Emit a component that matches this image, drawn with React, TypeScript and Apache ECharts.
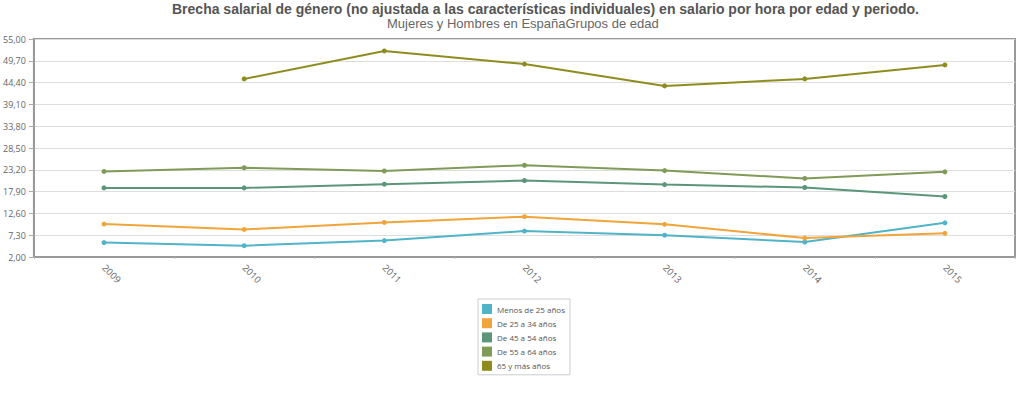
import React, { useEffect, useRef } from "react";
import * as echarts from "echarts";

const years = ["2009", "2010", "2011", "2012", "2013", "2014", "2015"];
const seriesNames = [
  "Menos de 25 años",
  "De 25 a 34 años",
  "De 45 a 54 años",
  "De 55 a 64 años",
  "65 y más años",
];
const menos25 = [5.5, 4.75, 6.0, 8.3, 7.3, 5.65, 10.3];
const de25a34 = [10.0, 8.7, 10.4, 11.8, 9.95, 6.6, 7.75];
const de45a54 = [18.8, 18.8, 19.7, 20.6, 19.6, 18.9, 16.7];
const de55a64 = [22.8, 23.7, 22.9, 24.3, 23.0, 21.1, 22.7];
const mas65 = [null, 45.3, 52.1, 48.9, 43.6, 45.3, 48.7];
const colors = ["#50b3c8", "#f0a53b", "#5b967a", "#7f9b57", "#8f8c1f"];

const allData = [menos25, de25a34, de45a54, de55a64, mas65];

export default function App() {
  const ref = useRef<HTMLDivElement>(null);
  useEffect(() => {
    if (!ref.current) return;
    const chart = echarts.init(ref.current, undefined, { renderer: "svg" });
    chart.setOption({
      animation: false,
      color: colors,
      title: [
        {
          text: "Brecha salarial de género (no ajustada a las características individuales) en salario por hora por edad y periodo.",
          left: 172,
          top: 2,
          padding: 0,
          textStyle: { fontFamily: "Liberation Sans", fontSize: 14, fontWeight: "bold", color: "#555" },
        },
        {
          text: "Mujeres y Hombres en EspañaGrupos de edad",
          left: 387,
          top: 17,
          padding: 0,
          textStyle: { fontFamily: "Liberation Sans", fontSize: 13, fontWeight: "normal", color: "#666" },
        },
      ],
      grid: {
        left: 31,
        right: 9,
        top: 39,
        bottom: 138,
        show: true,
        borderColor: "#999",
        borderWidth: 2,
      },
      legend: {
        orient: "vertical",
        left: 478,
        top: 299,
        data: seriesNames,
        icon: "rect",
        itemWidth: 10,
        itemHeight: 10,
        itemGap: 4.2,
        padding: [5, 5, 4, 4],
        borderColor: "#ccc",
        borderWidth: 1,
        textStyle: { fontFamily: "Open Sans", fontSize: 8, color: "#555" },
      },
      xAxis: {
        type: "category",
        data: years,
        boundaryGap: true,
        axisLine: { lineStyle: { color: "#999", width: 2 } },
        axisTick: { show: true, length: 2, lineStyle: { color: "#bbb" } },
        axisLabel: { rotate: -45, margin: 9, fontFamily: "Open Sans", fontSize: 9.5, color: "#666" },
      },
      yAxis: {
        type: "value",
        min: 2,
        max: 55,
        interval: 5.3,
        axisLine: { show: true, lineStyle: { color: "#999", width: 2 } },
        axisTick: { show: true, length: 5, lineStyle: { color: "#aaa" } },
        splitLine: { lineStyle: { color: "#ddd", width: 1 } },
        axisLabel: {
          margin: 8,
          fontFamily: "Open Sans",
          fontSize: 9,
          color: "#666",
          formatter: (v: number) => v.toFixed(2).replace(".", ","),
        },
      },
      series: seriesNames.map((name, i) => ({
        name,
        type: "line",
        data: allData[i],
        symbol: "circle",
        symbolSize: 5,
        lineStyle: { width: 2 },
        connectNulls: false,
      })),
    });
    return () => chart.dispose();
  }, []);
  return (
    <div
      ref={ref}
      style={{ position: "absolute", left: 0, top: 0, width: 1024, height: 395 }}
    />
  );
}
